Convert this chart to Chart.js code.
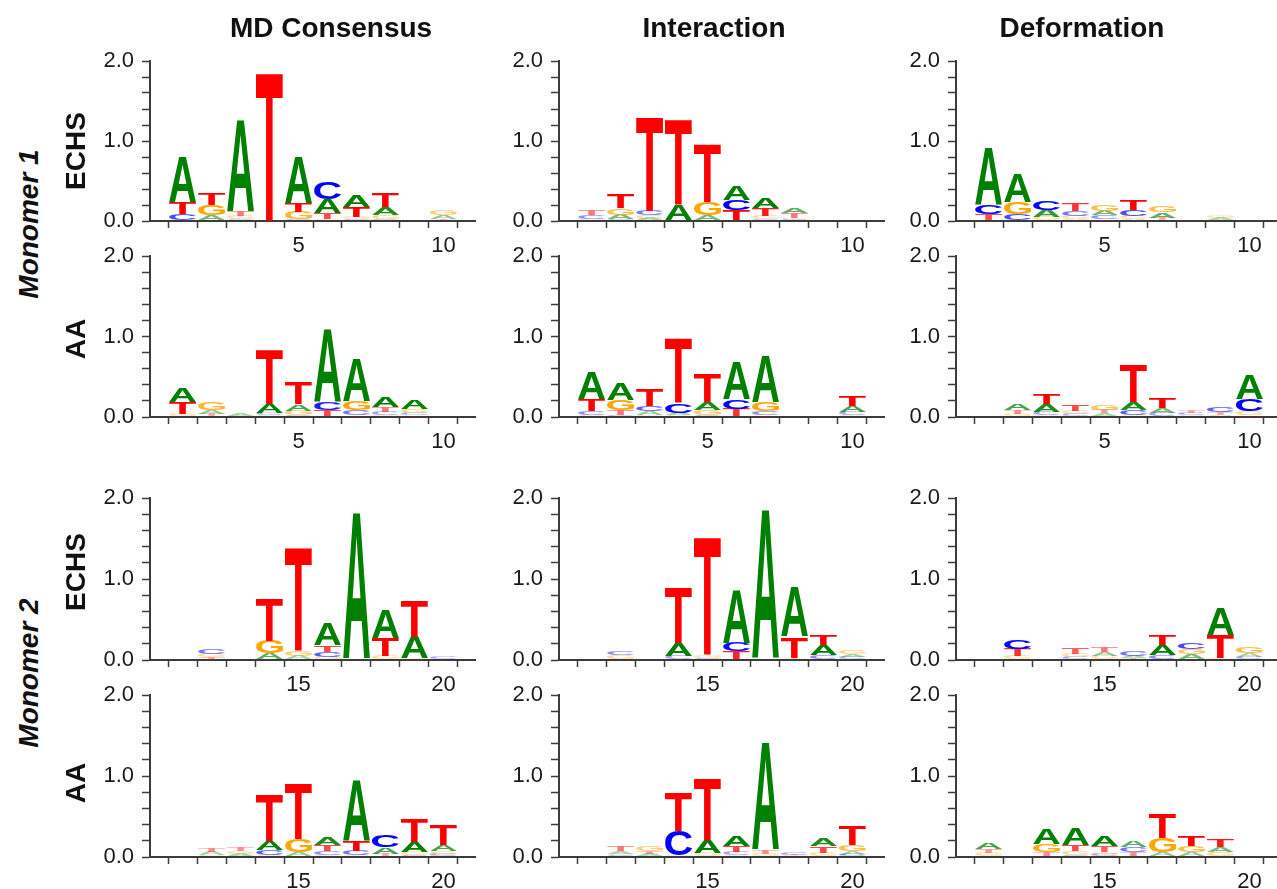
<!DOCTYPE html>
<html>
<head>
<meta charset="utf-8">
<title>Sequence logos</title>
<script src="https://cdn.jsdelivr.net/npm/chart.js@4.4.0/dist/chart.umd.min.js"></script>
<style>
  html, body { margin: 0; padding: 0; background: #fff; }
  body { width: 1277px; height: 889px; overflow: hidden; position: relative;
         font-family: "Liberation Sans", Arial, sans-serif; color: #111; }
  canvas { position: absolute; }
  .lbl { position: absolute; font-weight: bold; font-size: 28px; white-space: nowrap; z-index: 5; }
  .col { transform: translate(-50%, -50%); }
  .row { transform: translate(-50%, -50%) rotate(-90deg); }
  .mono { font-style: italic; }
</style>
</head>
<body>
<div class="lbl col" style="left:331px; top:28px">MD Consensus</div>
<div class="lbl col" style="left:714px; top:28px">Interaction</div>
<div class="lbl col" style="left:1082px; top:28px">Deformation</div>
<div class="lbl row mono" style="left:29px; top:224px">Monomer 1</div>
<div class="lbl row mono" style="left:29px; top:673px">Monomer 2</div>
<div class="lbl row" style="left:76px; top:151px">ECHS</div>
<div class="lbl row" style="left:76px; top:339px">AA</div>
<div class="lbl row" style="left:76px; top:572px">ECHS</div>
<div class="lbl row" style="left:76px; top:783px">AA</div>

<script>
// positions along the DNA
const positions1 = [1, 2, 3, 4, 5, 6, 7, 8, 9, 10];
const positions2 = [11, 12, 13, 14, 15, 16, 17, 18, 19, 20];
const LETTERS = ['A', 'C', 'G', 'T'];

// letter heights (bits) per position, monomer 1
const mdEchs1 = {
  A: [0.56, 0.06, 1.14, 0, 0.58, 0.17, 0.15, 0.10, 0, 0.05],
  C: [0.08, 0.01, 0.02, 0, 0.02, 0.21, 0.02, 0.02, 0, 0.01],
  G: [0.01, 0.13, 0.04, 0, 0.09, 0.02, 0.03, 0.05, 0, 0.06],
  T: [0.14, 0.15, 0.06, 1.86, 0.11, 0.08, 0.13, 0.18, 0, 0.01]
};
const intEchs1 = {
  A: [0.01, 0.06, 0.03, 0.19, 0.06, 0.17, 0.13, 0.07, 0, 0],
  C: [0.05, 0.02, 0.06, 0.01, 0.01, 0.13, 0.02, 0.02, 0, 0],
  G: [0.02, 0.08, 0.04, 0.00, 0.17, 0.01, 0.04, 0.02, 0, 0],
  T: [0.06, 0.18, 1.17, 1.07, 0.72, 0.12, 0.10, 0.06, 0, 0]
};
const defEchs1 = {
  A: [0.70, 0.36, 0.09, 0.02, 0.06, 0.02, 0.07, 0, 0.03, 0],
  C: [0.12, 0.08, 0.12, 0.06, 0.05, 0.08, 0.01, 0, 0.01, 0],
  G: [0.01, 0.14, 0.04, 0.04, 0.08, 0.04, 0.08, 0, 0.035, 0],
  T: [0.08, 0.01, 0.01, 0.09, 0.02, 0.12, 0.03, 0.01, 0, 0]
};
const mdAa1 = {
  A: [0.17, 0.05, 0.03, 0.11, 0.08, 0.89, 0.52, 0.13, 0.11, 0],
  C: [0.01, 0.01, 0.01, 0.03, 0.02, 0.10, 0.06, 0.04, 0.03, 0],
  G: [0.03, 0.09, 0.00, 0.02, 0.06, 0.01, 0.12, 0.02, 0.05, 0],
  T: [0.14, 0.03, 0.00, 0.68, 0.27, 0.08, 0.02, 0.06, 0.02, 0]
};
const intAa1 = {
  A: [0.33, 0.20, 0.05, 0.03, 0.10, 0.46, 0.58, 0, 0, 0.08],
  C: [0.05, 0.02, 0.07, 0.12, 0.02, 0.12, 0.05, 0, 0, 0.04],
  G: [0.02, 0.13, 0.02, 0.02, 0.07, 0.01, 0.11, 0, 0, 0.02],
  T: [0.15, 0.06, 0.20, 0.80, 0.35, 0.09, 0.02, 0, 0, 0.12]
};
const defAa1 = {
  A: [0, 0.08, 0.10, 0.01, 0.035, 0.10, 0.06, 0.01, 0.02, 0.30],
  C: [0, 0.01, 0.04, 0.03, 0.01, 0.07, 0.04, 0.025, 0.07, 0.15],
  G: [0, 0.03, 0.02, 0.04, 0.07, 0.02, 0.01, 0.01, 0.01, 0.05],
  T: [0, 0.05, 0.12, 0.08, 0.045, 0.47, 0.13, 0.03, 0.03, 0.02]
};

// monomer 2
const mdEchs2 = {
  A: [0, 0.00, 0, 0.07, 0.04, 0.27, 1.80, 0.35, 0.27, 0],
  C: [0, 0.06, 0, 0.01, 0.01, 0.07, 0, 0.01, 0.01, 0.03],
  G: [0, 0.04, 0, 0.16, 0.06, 0.03, 0, 0.04, 0.01, 0.01],
  T: [0, 0.035, 0, 0.52, 1.27, 0.08, 0, 0.22, 0.44, 0]
};
const intEchs2 = {
  A: [0, 0, 0, 0.16, 0.01, 0.65, 1.84, 0.61, 0.12, 0.035],
  C: [0, 0.05, 0, 0.04, 0.02, 0.105, 0, 0.01, 0.05, 0.025],
  G: [0, 0.045, 0, 0.01, 0.03, 0.01, 0, 0.02, 0.01, 0.05],
  T: [0, 0.01, 0, 0.68, 1.45, 0.095, 0, 0.26, 0.13, 0.01]
};
const defEchs2 = {
  A: [0, 0.01, 0, 0.01, 0.05, 0.03, 0.12, 0.06, 0.34, 0.04],
  C: [0, 0.12, 0, 0.03, 0.01, 0.06, 0.05, 0.08, 0.01, 0.03],
  G: [0, 0.04, 0, 0.04, 0.04, 0.01, 0.01, 0.07, 0.02, 0.08],
  T: [0, 0.09, 0, 0.07, 0.06, 0.01, 0.13, 0.01, 0.28, 0.01]
};
const mdAa2 = {
  A: [0, 0.04, 0.03, 0.11, 0.05, 0.10, 0.74, 0.08, 0.12, 0.08],
  C: [0, 0.01, 0.01, 0.07, 0.01, 0.05, 0.06, 0.15, 0.02, 0.03],
  G: [0, 0.01, 0.03, 0.02, 0.16, 0.02, 0.02, 0.01, 0.04, 0.04],
  T: [0, 0.05, 0.05, 0.58, 0.69, 0.08, 0.12, 0.03, 0.29, 0.26]
};
const intAa2 = {
  A: [0, 0.03, 0.03, 0.01, 0.16, 0.12, 1.32, 0.01, 0.10, 0.04],
  C: [0, 0.02, 0.01, 0.30, 0.01, 0.04, 0.01, 0.03, 0.01, 0.03],
  G: [0, 0.02, 0.06, 0.01, 0.04, 0.02, 0.03, 0.01, 0.04, 0.08],
  T: [0, 0.06, 0.035, 0.48, 0.76, 0.08, 0.05, 0.01, 0.08, 0.23]
};
const defAa2 = {
  A: [0.08, 0, 0.19, 0.20, 0.13, 0.07, 0.05, 0.05, 0.06, 0],
  C: [0.01, 0, 0.01, 0.02, 0.03, 0.06, 0.01, 0.01, 0.01, 0],
  G: [0.04, 0, 0.10, 0.05, 0.035, 0.01, 0.17, 0.08, 0.05, 0],
  T: [0.045, 0, 0.05, 0.08, 0.07, 0.05, 0.30, 0.12, 0.10, 0]
};

const yTickValues = [0, 0.2, 0.4, 0.6, 0.8, 1.0, 1.2, 1.4, 1.6, 1.8, 2.0];

const LETTER_COLORS = { A: '#008000', C: '#0000ff', G: '#ffa500', T: '#ff0000' };
const AXIS_COLOR = '#3c3c3c';
const FONT_FAMILY = '"Liberation Sans", Arial, sans-serif';

// panel layout: y-axis x position per column, plot top/bottom per row
const colX = [150, 559, 956];
const rowY = [[61, 221], [256, 417], [498, 660], [695, 857]];
const PLOT_W = 325;
const Y_AXIS_W = 70;
const PAD_TOP = 26;
const X_AXIS_H = 40;

// draws one letter stretched to fill a box
const glyphFont = 'bold 200px ' + FONT_FAMILY;
const glyphMetrics = {};
function drawGlyph(ctx, letter, left, top, w, h) {
  ctx.save();
  ctx.font = glyphFont;
  ctx.textAlign = 'left';
  ctx.textBaseline = 'alphabetic';
  const m = glyphMetrics[letter] || (glyphMetrics[letter] = ctx.measureText(letter));
  const gl = -m.actualBoundingBoxLeft, gr = m.actualBoundingBoxRight;
  const gt = -m.actualBoundingBoxAscent, gb = m.actualBoundingBoxDescent;
  ctx.translate(left, top);
  ctx.scale(w / (gr - gl), h / (gb - gt));
  ctx.fillStyle = LETTER_COLORS[letter];
  // tiny letters come out washed out in the original
  ctx.globalAlpha = Math.max(0.35, Math.min(1, h / 9));
  ctx.fillText(letter, -gl, -gt);
  ctx.restore();
}

const glyphPlugin = {
  id: 'glyphs',
  afterDatasetsDraw(chart) {
    const ctx = chart.ctx;
    chart.data.datasets.forEach((ds, di) => {
      const meta = chart.getDatasetMeta(di);
      meta.data.forEach((bar, i) => {
        const { x, y, base, width } = bar.getProps(['x', 'y', 'base', 'width'], true);
        const h = Math.abs(base - y);
        if (h < 0.6) return;
        drawGlyph(ctx, ds.data[i].letter, x - width / 2, Math.min(y, base), width, h);
      });
    });
  }
};

// stack letters smallest at the bottom, one dataset per stack level
function buildLayers(panel, positions) {
  const layers = [[], [], [], []];
  positions.forEach((p, i) => {
    const stack = LETTERS.map(L => ({ L, h: panel[L][i] })).sort((a, b) => a.h - b.h);
    stack.forEach((s, k) => layers[k].push({ x: p, y: s.h, letter: s.L }));
  });
  return layers;
}

function makeLogo(panel, positions, col, row) {
  const [top, bottom] = rowY[row];
  const canvas = document.createElement('canvas');
  const w = Y_AXIS_W + PLOT_W + 10;
  const h = PAD_TOP + (bottom - top) + X_AXIS_H;
  canvas.width = w;
  canvas.height = h;
  canvas.style.width = w + 'px';
  canvas.style.height = h + 'px';
  canvas.style.left = (colX[col] - Y_AXIS_W) + 'px';
  canvas.style.top = (top - PAD_TOP) + 'px';
  document.body.appendChild(canvas);

  const start = positions[0];
  new Chart(canvas, {
    type: 'bar',
    data: {
      datasets: buildLayers(panel, positions).map(layer => ({
        data: layer,
        backgroundColor: 'rgba(0,0,0,0)',
        borderWidth: 0,
        barPercentage: 0.93,
        categoryPercentage: 1
      }))
    },
    options: {
      responsive: false,
      animation: false,
      events: [],
      layout: { padding: { top: PAD_TOP, right: 10, left: 0, bottom: 0 } },
      plugins: { legend: { display: false }, tooltip: { enabled: false } },
      scales: {
        x: {
          type: 'linear',
          stacked: true,
          min: start - 0.565,
          max: start + 9.53,
          afterBuildTicks: ax => { ax.ticks = positions.map(v => ({ value: v })); },
          afterFit: ax => { ax.height = X_AXIS_H; },
          grid: { drawOnChartArea: false, drawTicks: true, tickLength: 7, tickWidth: 1.5, tickColor: AXIS_COLOR },
          border: { color: AXIS_COLOR, width: 2 },
          ticks: {
            autoSkip: false, maxRotation: 0, padding: 5, color: '#1a1a1a',
            font: { size: 22, family: FONT_FAMILY },
            callback: v => (v % 5 === 0 ? String(v) : '')
          }
        },
        y: {
          stacked: true,
          min: 0,
          max: 2,
          afterBuildTicks: ax => { ax.ticks = yTickValues.map(v => ({ value: v })); },
          afterFit: ax => { ax.width = Y_AXIS_W; },
          grid: { drawOnChartArea: false, drawTicks: true, tickLength: 8, tickWidth: 1.5, tickColor: AXIS_COLOR },
          border: { color: AXIS_COLOR, width: 2 },
          ticks: {
            autoSkip: false, padding: 8, color: '#1a1a1a',
            font: { size: 22, family: FONT_FAMILY },
            callback: v => (Math.abs(v - Math.round(v)) < 1e-6 ? Math.round(v).toFixed(1) : '')
          }
        }
      }
    },
    plugins: [glyphPlugin]
  });
}

makeLogo(mdEchs1, positions1, 0, 0);
makeLogo(intEchs1, positions1, 1, 0);
makeLogo(defEchs1, positions1, 2, 0);
makeLogo(mdAa1, positions1, 0, 1);
makeLogo(intAa1, positions1, 1, 1);
makeLogo(defAa1, positions1, 2, 1);
makeLogo(mdEchs2, positions2, 0, 2);
makeLogo(intEchs2, positions2, 1, 2);
makeLogo(defEchs2, positions2, 2, 2);
makeLogo(mdAa2, positions2, 0, 3);
makeLogo(intAa2, positions2, 1, 3);
makeLogo(defAa2, positions2, 2, 3);
</script>
</body>
</html>
